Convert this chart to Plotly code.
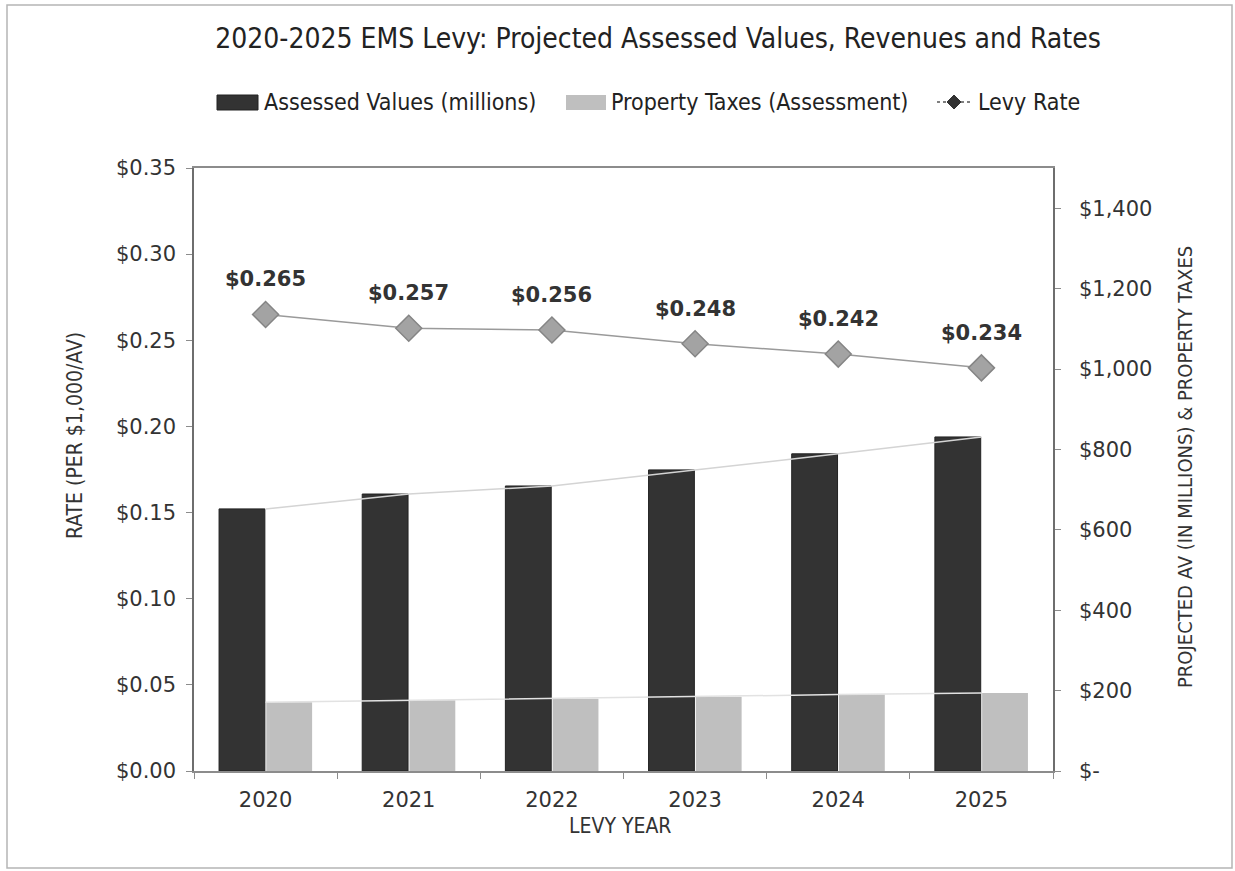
import plotly.graph_objects as go

# ---- data -------------------------------------------------------------
years = ["2020", "2021", "2022", "2023", "2024", "2025"]
assessed_values = [652, 689, 709, 749, 789, 831]      # $ millions
property_taxes = [171, 176, 180, 185, 190, 194]       # $ (assessment)
levy_rate = [0.265, 0.257, 0.256, 0.248, 0.242, 0.234]  # per $1,000 AV

rate_ticks = [0.00, 0.05, 0.10, 0.15, 0.20, 0.25, 0.30, 0.35]
money_ticks = [0, 200, 400, 600, 800, 1000, 1200, 1400]
money_labels = ["$-", "$200", "$400", "$600", "$800", "$1,000", "$1,200", "$1,400"]

# ---- page geometry (pixels) ------------------------------------------
WIDTH, HEIGHT = 1235, 871
PL, PR, PT, PB = 194, 1053, 168, 771
PW, PH = PR - PL, PB - PT


def px(x):
    return (x - PL) / PW


def py(y):
    return (PB - y) / PH


TICK_FONT = dict(family="DejaVu Sans", size=21, color="#333333")
NARROW = "DejaVu Sans Condensed, Liberation Sans Narrow, sans-serif"

DARK = "#333333"
LIGHT = "#bfbfbf"

fig = go.Figure()

fig.add_trace(go.Bar(
    x=years, y=assessed_values, name="Assessed Values (millions)",
    marker=dict(color=DARK, line=dict(color="#222222", width=1)),
    yaxis="y2", offsetgroup="av", showlegend=False,
))
fig.add_trace(go.Bar(
    x=years, y=property_taxes, name="Property Taxes (Assessment)",
    marker=dict(color=LIGHT, line=dict(width=0)),
    yaxis="y2", offsetgroup="tax", showlegend=False,
))

# thin trend lines running through the bar tops
fig.add_trace(go.Scatter(
    x=years, y=assessed_values, mode="lines", yaxis="y2",
    line=dict(color="#d4d4d4", width=1.5), showlegend=False, hoverinfo="skip",
))
fig.add_trace(go.Scatter(
    x=years, y=property_taxes, mode="lines", yaxis="y2",
    line=dict(color="#e2e2e2", width=1.5), showlegend=False, hoverinfo="skip",
))

fig.add_trace(go.Scatter(
    x=years, y=levy_rate, name="Levy Rate", mode="lines+markers", yaxis="y",
    line=dict(color="#9a9a9a", width=1.5),
    marker=dict(symbol="diamond", size=20, color="#a3a3a3",
                line=dict(color="#858585", width=1.5)),
    showlegend=False,
))

annotations = []

# value labels above the levy-rate diamonds (category index positions)
for i, r in enumerate(levy_rate):
    annotations.append(dict(
        x=i, y=r, xref="x", yref="y", text=f"<b>${r:.3f}</b>", showarrow=False,
        yshift=35, font=dict(family="DejaVu Sans", size=21, color="#333333"),
        xanchor="center", yanchor="middle",
    ))

# axis titles
annotations += [
    dict(x=px(75), y=py(436), xref="paper", yref="paper",
         xanchor="center", yanchor="middle",
         text="RATE (PER $1,000/AV)", textangle=-90, showarrow=False,
         font=dict(family=NARROW, size=21, color="#333333")),
    dict(x=px(1185), y=py(467), xref="paper", yref="paper",
         xanchor="center", yanchor="middle",
         text="PROJECTED AV (IN MILLIONS) &amp; PROPERTY TAXES", textangle=-90,
         showarrow=False, font=dict(family=NARROW, size=20, color="#333333")),
    dict(x=px(620), y=py(826), xref="paper", yref="paper",
         xanchor="center", yanchor="middle",
         text="LEVY YEAR", showarrow=False,
         font=dict(family=NARROW, size=21, color="#333333")),
]

# legend (drawn by hand so the swatches keep their wide shape)
LEG_Y = 102
legend_items = [
    ("Assessed Values (millions)", 262),
    ("Property Taxes (Assessment)", 609),
    ("Levy Rate", 976),
]
for label, x0 in legend_items:
    annotations.append(dict(
        x=px(x0), y=py(LEG_Y), xref="paper", yref="paper", text=label,
        showarrow=False, xanchor="left", yanchor="middle",
        font=dict(family=NARROW, size=23, color="#222222"),
    ))

shapes = [
    # outer chart border
    dict(type="rect", xref="paper", yref="paper",
         x0=px(7), x1=px(1232), y0=py(868), y1=py(5),
         line=dict(color="#b5b5b5", width=1.5), layer="below"),
    # legend swatches
    dict(type="rect", xref="paper", yref="paper",
         x0=px(217), x1=px(258), y0=py(110), y1=py(95),
         fillcolor=DARK, line=dict(color="#222222", width=1)),
    dict(type="rect", xref="paper", yref="paper",
         x0=px(566), x1=px(606), y0=py(110), y1=py(95),
         fillcolor=LIGHT, line=dict(width=0)),
    dict(type="line", xref="paper", yref="paper",
         x0=px(937), x1=px(972), y0=py(LEG_Y), y1=py(LEG_Y),
         line=dict(color="#555555", width=1.5, dash="dot")),
    dict(type="path", xref="paper", yref="paper",
         path=(f"M {px(954)},{py(LEG_Y - 7)} L {px(961)},{py(LEG_Y)} "
               f"L {px(954)},{py(LEG_Y + 7)} L {px(947)},{py(LEG_Y)} Z"),
         fillcolor="#333333", line=dict(color="#333333", width=1)),
]

fig.update_layout(
    width=WIDTH, height=HEIGHT,
    margin=dict(l=PL, r=WIDTH - PR, t=PT, b=HEIGHT - PB, pad=0),
    paper_bgcolor="white", plot_bgcolor="white",
    title=dict(
        text="2020-2025 EMS Levy: Projected Assessed Values, Revenues and Rates",
        x=658 / WIDTH, xref="container", xanchor="center",
        y=1 - 38 / HEIGHT, yref="container", yanchor="middle",
        font=dict(family=NARROW, size=28, color="#222222"),
    ),
    barmode="group", bargap=0.34, bargroupgap=0.03,
    showlegend=False,
    xaxis=dict(
        type="category", categoryorder="array", categoryarray=years,
        tickfont=TICK_FONT, showgrid=False, tickangle=0,
        showline=True, linecolor="#8c8c8c", linewidth=1.5, mirror=True,
        ticks="outside", ticklen=6, tickcolor="#8c8c8c", tickson="boundaries",
        ticklabelstandoff=9,
    ),
    yaxis=dict(
        range=[0, 0.35], tickvals=rate_ticks, tickformat="$.2f",
        tickfont=TICK_FONT, showgrid=False, zeroline=False,
        showline=True, linecolor="#6e6e6e", linewidth=1.5,
        ticks="outside", ticklen=6, tickcolor="#8c8c8c",
        ticklabelstandoff=6,
    ),
    yaxis2=dict(
        range=[0, 1500], tickvals=money_ticks, ticktext=money_labels,
        overlaying="y", side="right",
        tickfont=TICK_FONT, showgrid=False, zeroline=False,
        showline=True, linecolor="#6e6e6e", linewidth=1.5,
        ticks="outside", ticklen=6, tickcolor="#8c8c8c",
        ticklabelstandoff=14,
    ),
    annotations=annotations,
    shapes=shapes,
)

fig.write_html("out.html")
